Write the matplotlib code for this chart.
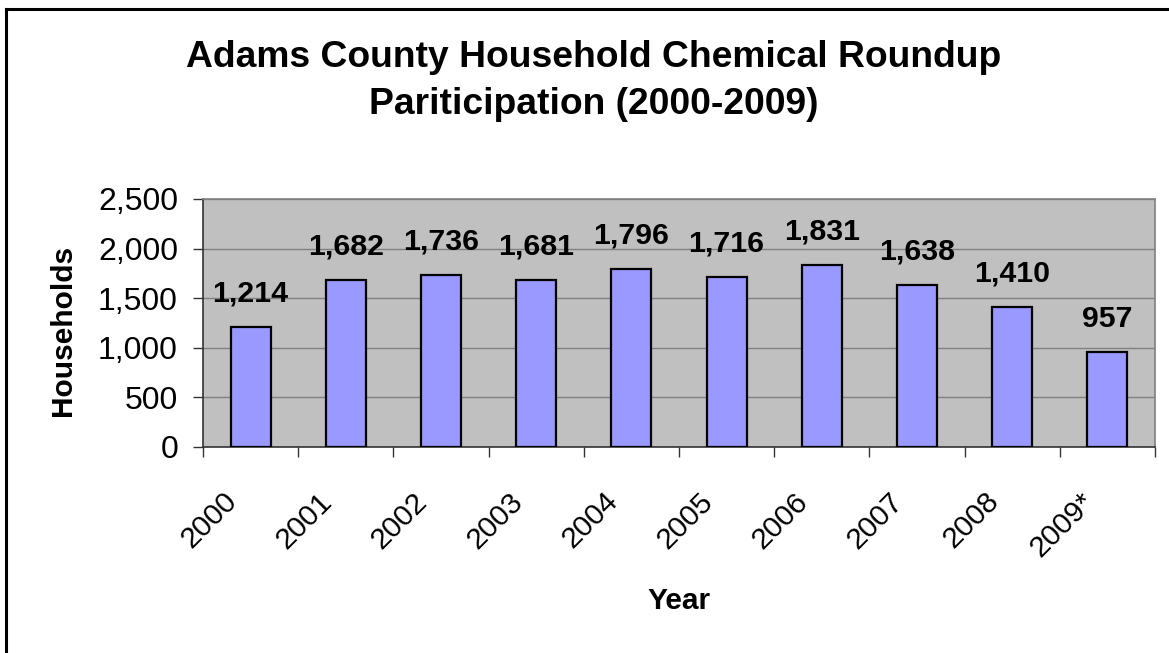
import numpy as np
import matplotlib.pyplot as plt
from matplotlib.lines import Line2D
from matplotlib.ticker import FuncFormatter, MultipleLocator
import matplotlib.transforms as mtransforms

plt.rcParams['font.family'] = ['Liberation Sans', 'DejaVu Sans']

years = ["2000", "2001", "2002", "2003", "2004", "2005", "2006", "2007", "2008", "2009*"]
households = [1214, 1682, 1736, 1681, 1796, 1716, 1831, 1638, 1410, 957]

W, H = 1169, 653
fig = plt.figure(figsize=(W / 100, H / 100), dpi=100)

# outer chart border (only left and top edges visible in the reference)
fig.add_artist(Line2D([6 / W, 6 / W], [0, 1 - 9 / H], color="black", lw=2.2))
fig.add_artist(Line2D([6 / W, 1], [1 - 9 / H, 1 - 9 / H], color="black", lw=2.2))

ax = fig.add_axes([203 / W, 1 - 447 / H, (1155 - 203) / W, (447 - 199) / H])
ax.set_facecolor("#C0C0C0")

x = np.arange(len(years))
bars = ax.bar(x, households, width=0.42, color="#9999FF", edgecolor="black",
              linewidth=1.6, zorder=3)

for xi, v in zip(x, households):
    ax.annotate(f"{v:,}", (xi, v), xytext=(0, 14), textcoords="offset points",
                ha="center", va="bottom", fontsize=21.8, fontweight="bold")

ax.set_xlim(-0.5, len(years) - 0.5)
ax.set_ylim(0, 2500)
ax.yaxis.set_major_locator(MultipleLocator(500))
ax.yaxis.set_major_formatter(FuncFormatter(lambda v, p: f"{int(v):,}"))
ax.grid(axis="y", color="#808080", lw=1.0, zorder=1)

for side in ["top", "right"]:
    ax.spines[side].set_color("#808080")
    ax.spines[side].set_linewidth(1.2)
for side in ["left", "bottom"]:
    ax.spines[side].set_color("#333333")
    ax.spines[side].set_linewidth(1.2)

ax.tick_params(axis="y", length=7, width=1, labelsize=23, pad=11, color="#333333")

# category labels at centres, tick marks at boundaries
ax.set_xticks(x)
ax.set_xticklabels(years, rotation=45, ha="right", va="center", rotation_mode="anchor",
                   fontsize=21.5)
ax.tick_params(axis="x", which="major", length=0, pad=36)
ax.set_xticks(np.arange(-0.5, len(years), 1.0), minor=True)
ax.tick_params(axis="x", which="minor", length=7, width=1, color="#333333")
offset = mtransforms.ScaledTranslation(-18 / 100, 0, fig.dpi_scale_trans)
for lab in ax.get_xticklabels():
    lab.set_transform(lab.get_transform() + offset)

ax.set_ylabel("Households", fontsize=21.5, fontweight="bold", labelpad=14)
ax.set_xlabel("Year", fontsize=21.5, fontweight="bold")
ax.yaxis.set_label_coords(63 / W, 323 / H, transform=fig.transFigure)
ax.xaxis.set_label_coords(679 / W, 1 - 601 / H, transform=fig.transFigure)
ax.xaxis.label.set_va("center")
ax.yaxis.label.set_va("center")

fig.text(594 / W, 1 - 81 / H, "Adams County Household Chemical Roundup\nPariticipation (2000-2009)",
         ha="center", va="center", fontsize=26.8, fontweight="bold", linespacing=1.42)

fig.savefig("out.png", dpi=100)
